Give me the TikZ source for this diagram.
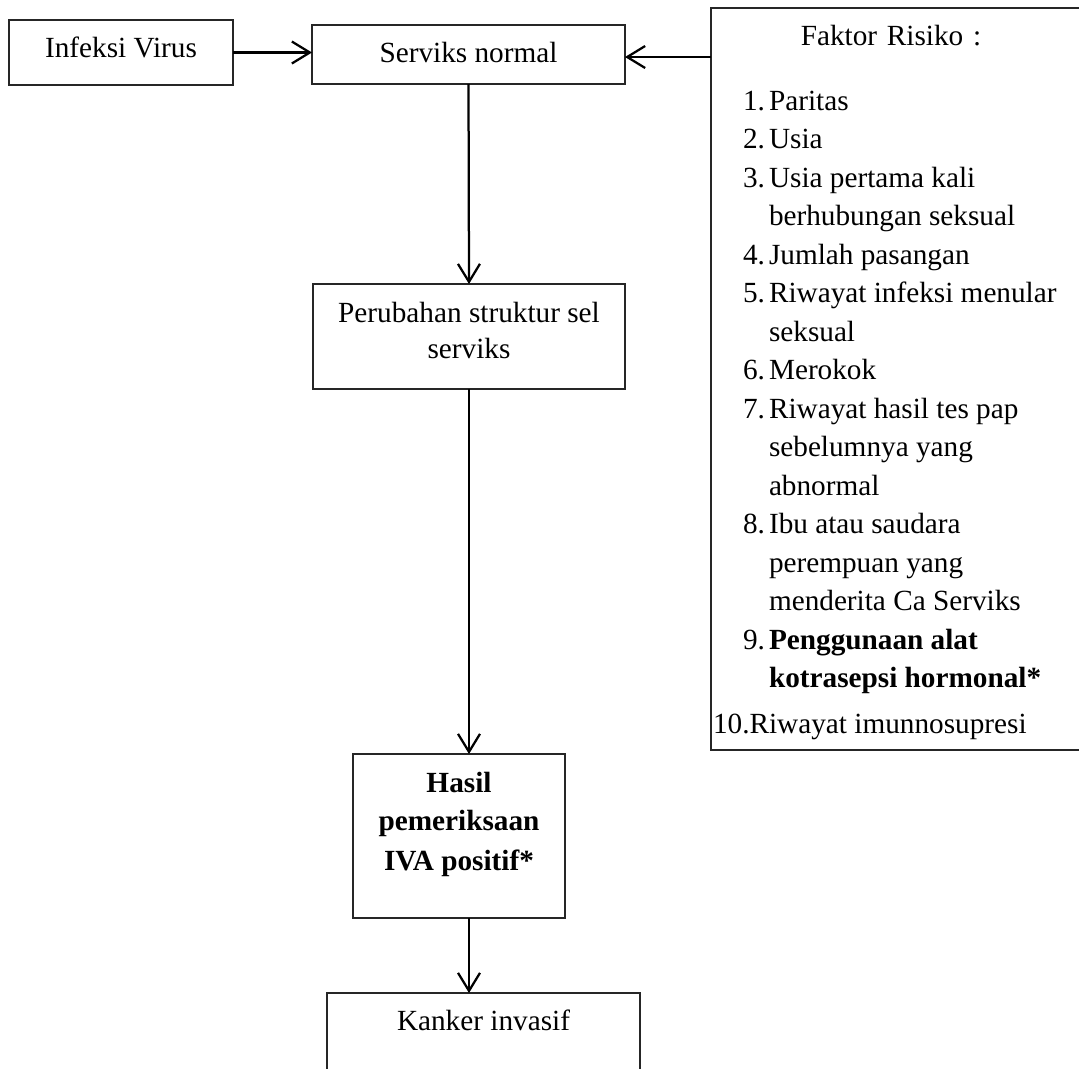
\documentclass[tikz,border=0pt]{standalone}
\usepackage{fontspec}
\setmainfont{Liberation Serif}
\usetikzlibrary{arrows.meta}
\begin{document}
\begin{tikzpicture}[x=0.4pt,y=-0.4pt,
  box/.style={draw=black!85,line width=0.5pt,rectangle,inner sep=0pt,outer sep=0pt},
  txt/.style={inner sep=0pt,outer sep=0pt,anchor=base,font=\fontsize{11.7}{14}\selectfont},
  bold/.style={font=\fontsize{11.7}{14}\selectfont\bfseries},
  num/.style={txt,anchor=base east},
  item/.style={txt,anchor=base west},
  conn/.style={line width=0.9pt,-{Straight Barb[length=7.2pt,width=8.8pt,line width=0.9pt]}}]
\useasboundingbox (0,0) rectangle (1079,1068);
% boxes
\node[box,minimum width=89.6pt,minimum height=26pt] (virus) at (121,52.5) {};
\node[box,minimum width=125.2pt,minimum height=23.6pt] (serv) at (468.5,54.5) {};
\node[box,minimum width=151.6pt,minimum height=296.8pt] (fak) at (900.5,379) {};
\node[box,minimum width=124.8pt,minimum height=42pt] (perub) at (469,336.5) {};
\node[box,minimum width=84.8pt,minimum height=65.6pt] (hasil) at (459,836) {};
\node[box,minimum width=125.2pt,minimum height=38.8pt] (kanker) at (483.5,1041.5) {};
% texts
\node[txt] (tvirus) at (121,57) {Infeksi Virus};
\node[txt] (tserv) at (468.5,62) {Serviks normal};
\node[txt] (tp1) at (469,322) {Perubahan struktur sel};
\node[txt] (tp2) at (469,358) {serviks};
\node[txt,bold] (th1) at (459,792) {Hasil};
\node[txt,bold] (th2) at (459,830) {pemeriksaan};
\node[txt,bold] (th3) at (459,870) {IVA positif*};
\node[txt] (tk) at (483.5,1030) {Kanker invasif};
\node[txt] (tf) at (891,45) {Faktor\hspace{1pt} Risiko\hspace{1pt} :};
% list
\node[num] (n1) at (765,110) {1.};
\node[item] (i1) at (769,110) {Paritas};
\node[num] (n2) at (765,148.5) {2.};
\node[item] (i2) at (769,148.5) {Usia};
\node[num] (n3) at (765,187) {3.};
\node[item] (i3) at (769,187) {Usia pertama kali};
\node[item] (i3b) at (769,225.5) {berhubungan seksual};
\node[num] (n4) at (765,264) {4.};
\node[item] (i4) at (769,264) {Jumlah pasangan};
\node[num] (n5) at (765,302.5) {5.};
\node[item] (i5) at (769,302.5) {Riwayat infeksi menular};
\node[item] (i5b) at (769,341) {seksual};
\node[num] (n6) at (765,379.5) {6.};
\node[item] (i6) at (769,379.5) {Merokok};
\node[num] (n7) at (765,418) {7.};
\node[item] (i7) at (769,418) {Riwayat hasil tes pap};
\node[item] (i7b) at (769,456.5) {sebelumnya yang};
\node[item] (i7c) at (769,495) {abnormal};
\node[num] (n8) at (765,533.5) {8.};
\node[item] (i8) at (769,533.5) {Ibu atau saudara};
\node[item] (i8b) at (769,572) {perempuan yang};
\node[item] (i8c) at (769,610.5) {menderita Ca Serviks};
\node[num] (n9) at (765,649) {9.};
\node[item,bold] (i9) at (769,649) {Penggunaan alat};
\node[item,bold] (i9b) at (769,687.5) {kotrasepsi hormonal*};
\node[item] (i10) at (713,733) {10.Riwayat imunnosupresi};
% connectors
\draw[conn] (virus.east) -- (virus.east -| serv.west);
\draw[conn] ([yshift=-1pt]serv.east -| fak.west) -- ([yshift=-1pt]serv.east);
\draw[conn] (serv.south) -- (perub.north);
\draw[conn] (perub.south) -- (perub.south |- hasil.north);
\draw[conn] (perub.south |- hasil.south) -- (perub.south |- kanker.north);
\end{tikzpicture}
\end{document}
